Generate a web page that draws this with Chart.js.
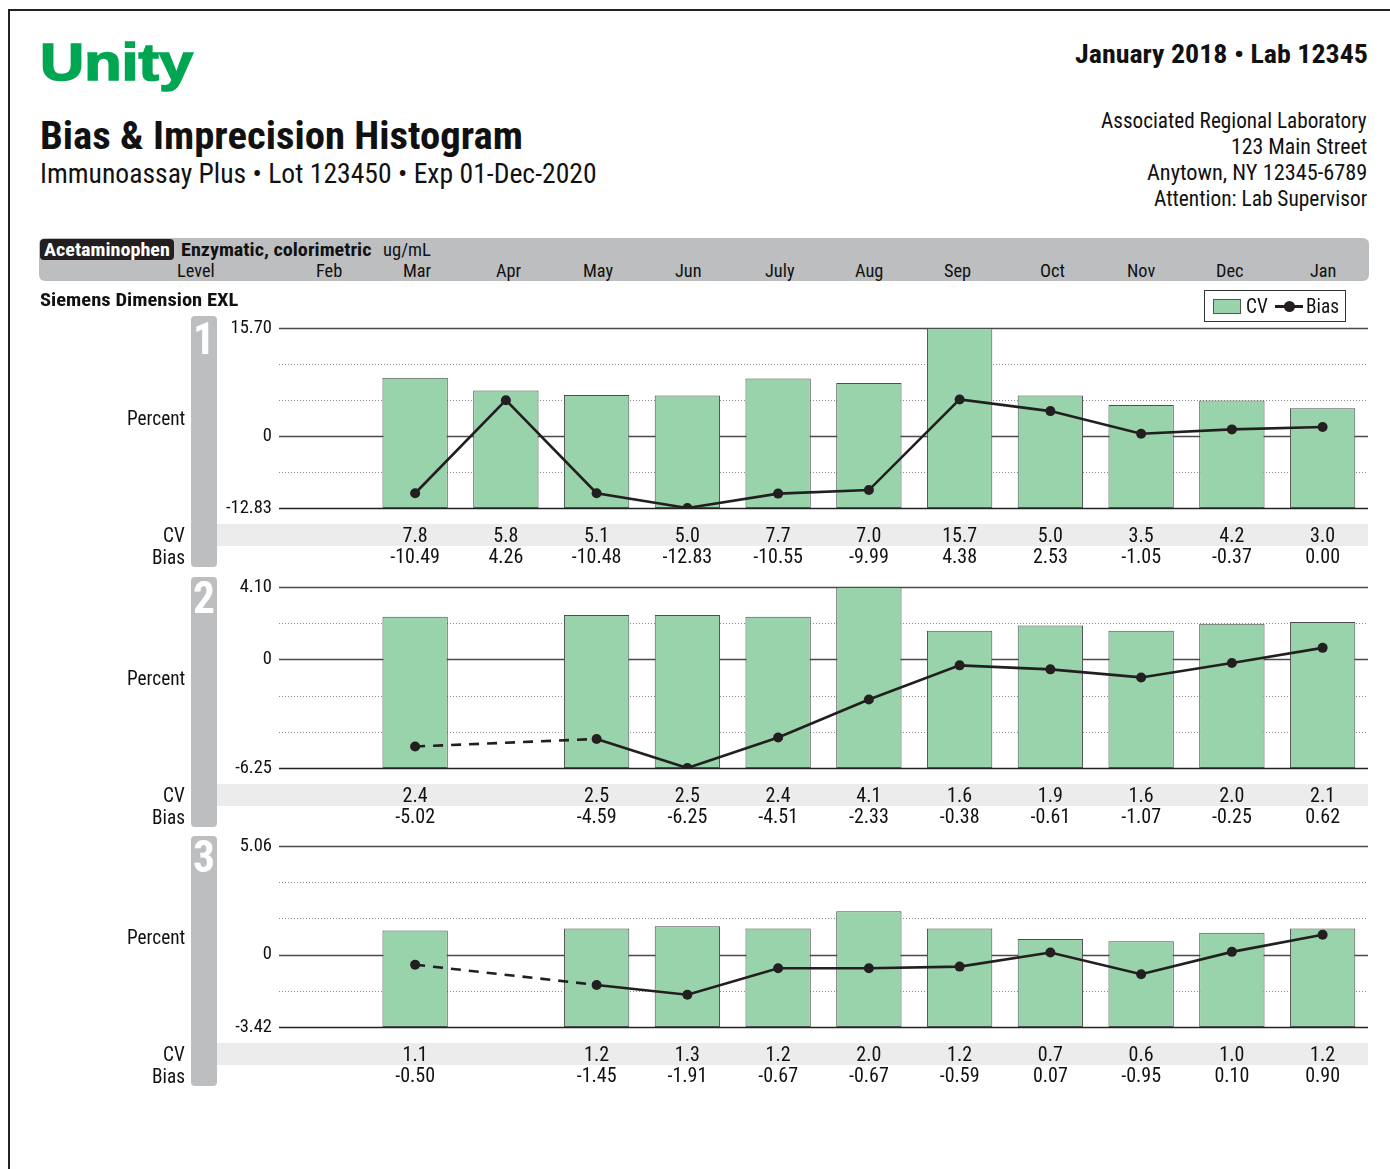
<!DOCTYPE html>
<html><head><meta charset="utf-8">
<script src="https://cdn.jsdelivr.net/npm/chart.js@4.4.1/dist/chart.umd.min.js"></script>
<style>
html,body{margin:0;padding:0;background:#fff;}
body{width:1390px;height:1169px;position:relative;overflow:hidden;
 font-family:'Liberation Sans Narrow','Arial Narrow','Roboto Condensed','DejaVu Sans Condensed','Liberation Sans',sans-serif;color:#111;}
.t{position:absolute;white-space:nowrap;transform-origin:0 0;display:inline-block;}
.box{position:absolute;box-sizing:border-box;}
canvas{position:absolute;left:0;}
</style></head><body>
<div class="box" style="left:8px;top:9px;width:1400px;height:1200px;border-top:2px solid #222;border-left:2px solid #222;"></div>
<!-- header band -->
<div class="box" style="left:39px;top:238px;width:1330px;height:43px;background:#bcbec0;border-radius:6px;"></div>
<div class="box" style="left:40px;top:239px;width:134px;height:21px;background:#231f20;border-radius:4px;"></div>
<!-- legend -->
<div class="box" style="left:1204px;top:290px;width:142px;height:32px;border:1.5px solid #333;background:#fff;"></div>
<div class="box" style="left:1213px;top:299px;width:28px;height:15px;background:#99d3ab;border:1px solid #555;"></div>
<div class="box" style="left:1275px;top:305px;width:28px;height:2.5px;background:#231f20;"></div>
<div class="box" style="left:1284px;top:301px;width:11px;height:11px;border-radius:50%;background:#231f20;"></div>
<!-- panel tabs -->
<div class="box" style="left:191px;top:316px;width:26px;height:251px;background:#bcbec0;border-radius:4px;"></div>
<div class="box" style="left:191px;top:577px;width:26px;height:250px;background:#bcbec0;border-radius:4px;"></div>
<div class="box" style="left:191px;top:836px;width:26px;height:250px;background:#bcbec0;border-radius:4px;"></div>
<canvas id="c1" width="1390" height="260" style="top:308px"></canvas>
<canvas id="c2" width="1390" height="261" style="top:567px"></canvas>
<canvas id="c3" width="1390" height="261" style="top:826px"></canvas>
<script>
// ---------------- data ----------------
const months = ['Feb','Mar','Apr','May','Jun','July','Aug','Sep','Oct','Nov','Dec','Jan'];
const cvLevel1   = [null, 7.8, 5.8, 5.1, 5.0, 7.7, 7.0, 15.7, 5.0, 3.5, 4.2, 3.0];
const biasLevel1 = [null, -10.49, 4.26, -10.48, -12.83, -10.55, -9.99, 4.38, 2.53, -1.05, -0.37, 0.00];
const cvLevel2   = [null, 2.4, null, 2.5, 2.5, 2.4, 4.1, 1.6, 1.9, 1.6, 2.0, 2.1];
const biasLevel2 = [null, -5.02, null, -4.59, -6.25, -4.51, -2.33, -0.38, -0.61, -1.07, -0.25, 0.62];
const cvLevel3   = [null, 1.1, null, 1.2, 1.3, 1.2, 2.0, 1.2, 0.7, 0.6, 1.0, 1.2];
const biasLevel3 = [null, -0.50, null, -1.45, -1.91, -0.67, -0.67, -0.59, 0.07, -0.95, 0.10, 0.90];
const yMinLevel = [-12.83, -6.25, -3.42];
const yMaxLevel = [15.70, 4.10, 5.06];
const levelNames = ['1', '2', '3'];

const FONT = "'Liberation Sans Narrow','Arial Narrow','Roboto Condensed','DejaVu Sans Condensed','Liberation Sans',sans-serif";
const GREEN = '#99d3ab';
const INK = '#231f20';

// ---------------- html text ----------------
const texts = [];
function T(text, x, anchor, cy, fs, opts) {
  texts.push(Object.assign({text, x, anchor, cy, fs}, opts || {}));
}
T('Unity', 40, 'l', 61, 52, {bold:true, w:153, color:'#00a651', family:"'Liberation Sans',Arial,sans-serif", stroke:'1.6px #00a651'});
T('Bias & Imprecision Histogram', 40, 'l', 136, 38, {bold:true, w:483});
T('Immunoassay Plus • Lot 123450 • Exp 01-Dec-2020', 40, 'l', 174.5, 27, {w:557});
T('January 2018 • Lab 12345', 1368, 'r', 54, 25, {bold:true, w:293});
T('Associated Regional Laboratory', 1367, 'r', 121, 22, {w:266, ref:true});
T('123 Main Street', 1367, 'r', 147, 22, {w:136});
T('Anytown, NY 12345-6789', 1367, 'r', 173, 22, {w:220});
T('Attention: Lab Supervisor', 1367, 'r', 199, 22, {w:213});
T('Acetaminophen', 107, 'c', 249.5, 19, {bold:true, w:126, color:'#fff'});
T('Enzymatic, colorimetric', 181, 'l', 249.5, 19, {bold:true, w:191});
T('ug/mL', 383, 'l', 249.5, 19, {w:48});
T('Level', 196, 'c', 270.5, 19, {});
const headerMonthX = [329, 417, 509, 598, 688, 780, 869, 957, 1053, 1141, 1230, 1323];
months.forEach((m, i) => T(m, headerMonthX[i], 'c', 270.5, 19, {}));
T('Siemens Dimension EXL', 40, 'l', 299, 19, {bold:true, w:198});
T('CV', 1246, 'l', 306, 20, {});
T('Bias', 1306, 'l', 306, 20, {});
const chartTops = [328, 587, 846];
const chartH = [180, 181, 181];
chartTops.forEach((top, p) => {
  const bottom = top + chartH[p];
  T(levelNames[p], 204, 'c', top + 10, 45, {bold:true, color:'#fff'});
  T('Percent', 185, 'r', (top + bottom) / 2, 20, {});
  T('CV', 185, 'r', bottom + 27, 20, {});
  T('Bias', 185, 'r', bottom + 48.5, 20, {});
});

const els = texts.map(s => {
  const el = document.createElement('span');
  el.className = 't';
  el.textContent = s.text;
  el.style.fontSize = s.fs + 'px';
  el.style.lineHeight = s.fs + 'px';
  el.style.fontWeight = s.bold ? '700' : '400';
  if (s.family) el.style.fontFamily = s.family;
  if (s.color) el.style.color = s.color;
  if (s.stroke) el.style.webkitTextStroke = s.stroke;
  document.body.appendChild(el);
  return el;
});
function layoutTexts() {
  let cond = 1;
  texts.forEach((s, i) => { if (s.ref) cond = s.w / els[i].offsetWidth; });
  texts.forEach((s, i) => {
    const el = els[i];
    const nw = el.offsetWidth;
    const sc = s.w ? s.w / nw : cond;
    const w = nw * sc;
    let left = s.anchor === 'l' ? s.x : s.anchor === 'r' ? s.x - w : s.x - w / 2;
    el.style.left = left + 'px';
    el.style.top = (s.cy - 0.4885 * s.fs) + 'px';
    el.style.transform = 'scaleX(' + sc + ')';
  });
}
layoutTexts();

// ---------------- charts ----------------
Chart.defaults.font.family = FONT;
Chart.defaults.color = '#111';

const refGrid = {
  id: 'refGrid',
  beforeDraw(chart) {
    const {ctx, chartArea} = chart;
    ctx.save();
    ctx.fillStyle = '#ececec';
    ctx.fillRect(217, chartArea.bottom + 16, chartArea.right - 217, 22);
    ctx.restore();
  },
  beforeDatasetsDraw(chart) {
    const {ctx, chartArea: {left, right}, scales: {y}} = chart;
    const ticks = y.ticks;
    const zi = y._zeroIndex;
    ctx.save();
    ticks.forEach((t, i) => {
      const py = Math.round(y.getPixelForValue(t.value)) + 0.5;
      const solid = i === 0 || i === ticks.length - 1 || i === zi;
      ctx.beginPath();
      if (solid) {
        ctx.setLineDash([]);
        ctx.strokeStyle = i === 0 ? '#222' : '#4a4a4a';
        ctx.lineWidth = 1.4;
      } else {
        ctx.setLineDash([1, 2]);
        ctx.strokeStyle = '#8a8a8a';
        ctx.lineWidth = 1;
      }
      ctx.moveTo(left, py);
      ctx.lineTo(right, py);
      ctx.stroke();
    });
    ctx.restore();
  }
};

function gapDash(ctx) {
  const a = ctx.p0, b = ctx.p1;
  if (a.skip || b.skip) return [10, 8];
  if (a.parsed && b.parsed && Math.abs(b.parsed.x - a.parsed.x) > 1) return [10, 8];
  return undefined;
}

function makePanel(id, cv, bias, yMin, yMax) {
  const cvs = document.getElementById(id);
  return new Chart(cvs, {
    data: {
      labels: months,
      datasets: [
        {
          type: 'line', label: 'Bias', data: bias, order: 0,
          borderColor: INK, borderWidth: 2.6, tension: 0,
          pointRadius: 5, pointBackgroundColor: INK, pointBorderColor: INK, pointBorderWidth: 0,
          spanGaps: true, fill: false,
          segment: { borderDash: gapDash }
        },
        {
          type: 'bar', label: 'CV', data: cv, order: 1, base: yMin,
          backgroundColor: GREEN, borderColor: '#4d4d4d', borderWidth: 1, borderSkipped: false,
          categoryPercentage: 0.8, barPercentage: 0.9
        }
      ]
    },
    options: {
      responsive: false, animation: false, events: [],
      layout: { padding: { top: 20, left: 0, right: 22, bottom: 0 } },
      plugins: { legend: { display: false }, tooltip: { enabled: false } },
      scales: {
        x: {
          type: 'category', offset: true,
          grid: { display: false, drawTicks: false }, border: { display: false },
          ticks: {
            autoSkip: false, maxRotation: 0, minRotation: 0, padding: 18, color: '#111',
            font: { size: 20, lineHeight: 1.05 },
            callback: (v, i) => (cv[i] == null ? '' : [cv[i].toFixed(1), bias[i].toFixed(2)])
          },
          afterFit: s => { s.height = 60; }
        },
        y: {
          type: 'linear', min: yMin, max: yMax,
          grid: { display: false, drawTicks: false }, border: { display: false },
          afterBuildTicks: s => {
            const n = 5, arr = [];
            for (let k = 0; k <= n; k++) arr.push({ value: yMin + (yMax - yMin) * k / n });
            let zi = 0, best = Infinity;
            arr.forEach((t, k) => { if (Math.abs(t.value) < best) { best = Math.abs(t.value); zi = k; } });
            s._zeroIndex = zi;
            s.ticks = arr;
          },
          ticks: {
            autoSkip: false, padding: 7, color: '#111', font: { size: 18.5 },
            callback: function (v, i, ticks) {
              if (i === 0) return yMin.toFixed(2);
              if (i === ticks.length - 1) return yMax.toFixed(2);
              if (i === this._zeroIndex) return '0';
              return '';
            }
          },
          afterFit: s => { s.width = 279; }
        }
      }
    },
    plugins: [refGrid]
  });
}

makePanel('c1', cvLevel1, biasLevel1, yMinLevel[0], yMaxLevel[0]);
makePanel('c2', cvLevel2, biasLevel2, yMinLevel[1], yMaxLevel[1]);
makePanel('c3', cvLevel3, biasLevel3, yMinLevel[2], yMaxLevel[2]);
</script>
</body></html>
